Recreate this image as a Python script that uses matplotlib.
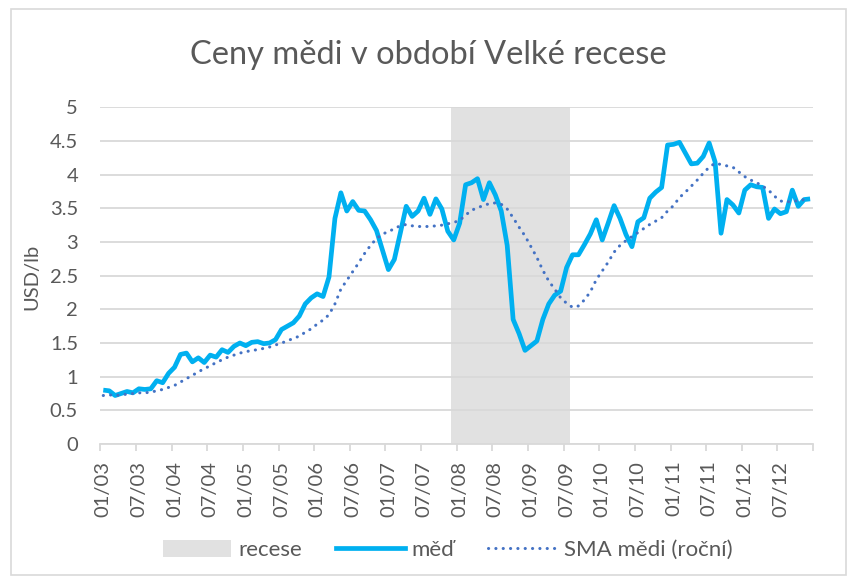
import matplotlib
matplotlib.use("Agg")
import matplotlib.pyplot as plt
from matplotlib.patches import Patch, Rectangle
from matplotlib.lines import Line2D

# ---------------- data ----------------
title = "Ceny mědi v období Velké recese"
y_label = "USD/lb"
legend_labels = ["recese", "měď", "SMA mědi (roční)"]

years = ["03", "04", "05", "06", "07", "08", "09", "10", "11", "12"]
months = [f"{m:02d}/{y}" for y in years for m in range(1, 13)]

x_tick_labels = ["01/03", "07/03", "01/04", "07/04", "01/05", "07/05", "01/06", "07/06",
                 "01/07", "07/07", "01/08", "07/08", "01/09", "07/09", "01/10", "07/10",
                 "01/11", "07/11", "01/12", "07/12"]
y_tick_values = [0, 0.5, 1, 1.5, 2, 2.5, 3, 3.5, 4, 4.5, 5]
y_tick_labels = ["0", "0.5", "1", "1.5", "2", "2.5", "3", "3.5", "4", "4.5", "5"]

recession_start = "12/07"
recession_end = "07/09"

copper = [0.80, 0.79, 0.72, 0.75, 0.78, 0.76, 0.82, 0.81, 0.82, 0.94, 0.91, 1.05,
          1.14, 1.33, 1.35, 1.22, 1.28, 1.21, 1.32, 1.29, 1.40, 1.36, 1.45, 1.50,
          1.46, 1.51, 1.52, 1.49, 1.50, 1.55, 1.70, 1.75, 1.80, 1.90, 2.08, 2.17,
          2.23, 2.19, 2.48, 3.35, 3.73, 3.46, 3.60, 3.47, 3.46, 3.33, 3.17, 2.88,
          2.59, 2.74, 3.13, 3.53, 3.38, 3.46, 3.65, 3.41, 3.64, 3.49, 3.16, 3.03,
          3.28, 3.85, 3.88, 3.94, 3.63, 3.88, 3.70, 3.46, 2.95, 1.85, 1.64, 1.39,
          1.46, 1.53, 1.85, 2.08, 2.21, 2.27, 2.62, 2.81, 2.81, 2.96, 3.12, 3.33,
          3.03, 3.28, 3.54, 3.35, 3.11, 2.93, 3.30, 3.36, 3.65, 3.74, 3.81, 4.44,
          4.45, 4.48, 4.32, 4.16, 4.17, 4.27, 4.47, 4.19, 3.13, 3.63, 3.55, 3.43,
          3.77, 3.85, 3.82, 3.81, 3.35, 3.49, 3.42, 3.45, 3.77, 3.53, 3.63, 3.64]

sma = [0.72, 0.73, 0.72, 0.73, 0.74, 0.75, 0.76, 0.76, 0.77, 0.79, 0.81, 0.84,
       0.87, 0.92, 0.97, 1.02, 1.07, 1.12, 1.16, 1.21, 1.25, 1.29, 1.32, 1.35,
       1.37, 1.39, 1.40, 1.42, 1.44, 1.47, 1.50, 1.53, 1.57, 1.60, 1.66, 1.71,
       1.78, 1.84, 1.92, 2.08, 2.30, 2.43, 2.56, 2.69, 2.83, 2.95, 3.05, 3.12,
       3.15, 3.20, 3.24, 3.26, 3.24, 3.23, 3.23, 3.23, 3.24, 3.25, 3.27, 3.29,
       3.32, 3.40, 3.47, 3.51, 3.54, 3.57, 3.58, 3.56, 3.49, 3.36, 3.22, 3.09,
       2.93, 2.77, 2.58, 2.42, 2.30, 2.17, 2.09, 2.03, 2.05, 2.14, 2.26, 2.44,
       2.57, 2.70, 2.85, 2.95, 3.02, 3.08, 3.14, 3.20, 3.26, 3.31, 3.36, 3.46,
       3.54, 3.66, 3.74, 3.83, 3.92, 4.02, 4.11, 4.17, 4.15, 4.13, 4.11, 4.04,
       3.97, 3.92, 3.88, 3.83, 3.77, 3.68, 3.61, 3.59, 3.61, 3.61, 3.63, 3.64]

# ---------------- style ----------------
FONT = ["Lato", "DejaVu Sans"]
plt.rcParams["font.family"] = FONT
TXT = "#595959"
GRID = "#d9d9d9"
COPPER = "#00b0f0"
SMA_C = "#4472c4"
REC = "#e1e1e1"

W, H = 857, 584
fig = plt.figure(figsize=(W / 100, H / 100), dpi=100)

# chart border
fig.patches.append(Rectangle((11 / W, 1 - 575 / H), (846 - 11) / W, (575 - 9) / H,
                             transform=fig.transFigure, fill=False,
                             edgecolor=GRID, linewidth=1.2))

left_px, right_px, top_px, bot_px = 100.3, 813.1, 107.3, 444.0
ax = fig.add_axes([left_px / W, 1 - bot_px / H, (right_px - left_px) / W,
                   (bot_px - top_px) / H])

x = list(range(len(months)))
i0 = months.index(recession_start)
i1 = months.index(recession_end)
ax.axvspan(i0 - 0.5, i1 + 0.5, color=REC, zorder=0.2, linewidth=0)

ax.plot(x, copper, color=COPPER, linewidth=3.4, solid_joinstyle="round",
        solid_capstyle="butt", zorder=3)
ax.plot(x, sma, color=SMA_C, linewidth=2.2, linestyle=(0, (0.05, 2.35)),
        dash_capstyle="round", zorder=4)

ax.set_xlim(-0.5, len(months) - 0.5)
ax.set_ylim(0, 5)

ax.set_yticks(y_tick_values)
ax.set_yticklabels(y_tick_labels)
label_pos = [months.index(l) for l in x_tick_labels]
ax.set_xticks(label_pos)
ax.set_xticklabels(x_tick_labels, rotation=90)
ax.set_xticks([p - 0.5 for p in label_pos] + [len(months) - 0.5], minor=True)

ax.grid(axis="y", color=GRID, linewidth=1.3)
ax.set_axisbelow(True)
for s in ["top", "right", "left"]:
    ax.spines[s].set_visible(False)
ax.spines["bottom"].set_color(GRID)
ax.spines["bottom"].set_linewidth(1.3)
ax.spines["bottom"].set_zorder(0.5)

ax.tick_params(axis="y", length=0, pad=16, labelsize=14.5, labelcolor=TXT)
ax.tick_params(axis="x", which="major", length=0, pad=12, labelsize=14.5,
               labelcolor=TXT)
ax.tick_params(axis="x", which="minor", length=5, width=1.3, color=GRID)

fig.text(31.5 / W, 1 - 277 / H, y_label, rotation=90, ha="center", va="center",
         fontsize=14.5, color=TXT)
fig.text(428 / W, 1 - 64 / H, title, ha="center", va="baseline",
         fontsize=23.5, color=TXT)

handles = [Patch(facecolor=REC, edgecolor="none"),
           Line2D([], [], color=COPPER, linewidth=3.4),
           Line2D([], [], color=SMA_C, linewidth=2.2, linestyle=(0, (0.05, 2.35)),
                  dash_capstyle="round")]
leg = fig.legend(handles, legend_labels, loc="center", ncol=3,
                 bbox_to_anchor=(447.5 / W, 1 - 550 / H), frameon=False,
                 fontsize=16, handlelength=3.1, handleheight=0.85,
                 handletextpad=0.32, columnspacing=1.5, labelcolor=TXT)

fig.savefig("out.png", dpi=100)
